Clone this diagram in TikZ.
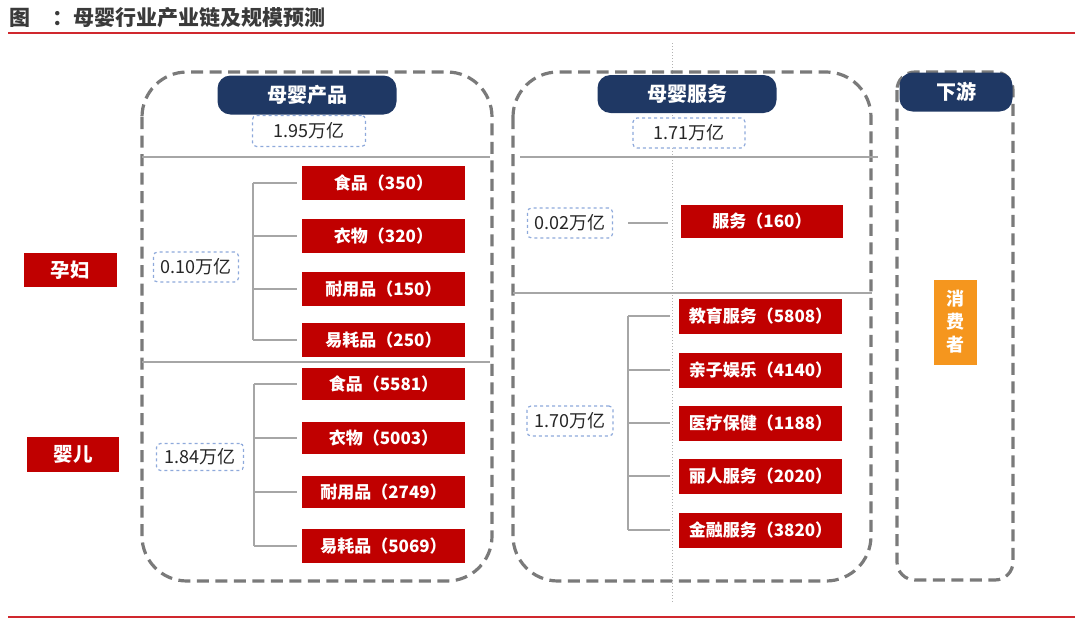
\documentclass[tikz,border=0pt]{standalone}
\usepackage{fontspec}
\setmainfont{Noto Sans CJK SC}
\usetikzlibrary{calc}
\definecolor{navy}{HTML}{1F3864}
\definecolor{boxred}{HTML}{C00000}
\definecolor{linered}{HTML}{D0282E}
\definecolor{dashgrey}{HTML}{7A7A7A}
\definecolor{divgrey}{HTML}{A6A6A6}
\definecolor{valblue}{HTML}{8EA9DB}
\definecolor{orangebox}{HTML}{F5961E}
\definecolor{titlegrey}{HTML}{3A3A3A}
\tikzset{
  bigbox/.style={draw=dashgrey, line width=3.2pt, dash pattern=on 12pt off 6.5pt},
  divline/.style={draw=divgrey, line width=1.8pt},
  brline/.style={draw=divgrey, line width=1.8pt},
  pill/.style={fill=navy, rounded corners=13pt, text=white, font=\fontsize{20}{20}\selectfont\bfseries, inner sep=0pt},
  valbox/.style={draw=valblue, dashed, line width=1.2pt, rounded corners=4pt, fill=white, text=black!85, font=\fontsize{18}{18}\selectfont, inner sep=0pt},
  redbox/.style={fill=boxred, text=white, font=\fontsize{17}{17}\selectfont\bfseries, inner sep=0pt},
  itembox/.style={redbox, minimum width=163pt, minimum height=34pt},
  catbox/.style={redbox, font=\fontsize{19.5}{19.5}\selectfont\bfseries},
}
\begin{document}
\begin{tikzpicture}[x=1pt,y=-1pt]
\useasboundingbox (0,0) rectangle (1080,621);
% title and red rules
\node[anchor=west, text=titlegrey, font=\fontsize{21}{21}\selectfont\bfseries, inner sep=0pt] (title) at (9,18) {图\hspace{1.05em}：母婴行业产业链及规模预测};
\coordinate (rt1) at (8,33);
\coordinate (rt2) at (1075,33);
\coordinate (rb1) at (8,617);
\coordinate (rb2) at (1075,617);
\draw[linered, line width=2.2pt] (rt1) -- (rt2);
\draw[linered, line width=2.2pt] (rb1) -- (rb2);
% faint dotted vertical
\coordinate (dv1) at (672,43);
\coordinate (dv2) at (672,602);
\draw[black!30, dotted, line width=1pt] (dv1) -- (dv2);
% big dashed boxes
\draw[bigbox, rounded corners=45pt] (142,72) rectangle (492,581);
\draw[bigbox, rounded corners=45pt] (513,72) rectangle (871,581);
\draw[bigbox, rounded corners=18pt] (897,72) rectangle (1013,580);
% dividing lines
\coordinate (d1a) at (142,157); \coordinate (d1b) at (490,157);
\coordinate (d2a) at (142,362); \coordinate (d2b) at (490,362);
\coordinate (d3a) at (520,157); \coordinate (d3b) at (878,157);
\coordinate (d4a) at (513,293); \coordinate (d4b) at (872,293);
\draw[divline] (d1a) -- (d1b);
\draw[divline] (d2a) -- (d2b);
\draw[divline] (d3a) -- (d3b);
\draw[divline] (d4a) -- (d4b);
% pills
\node[pill, minimum width=179pt, minimum height=39pt] (p1) at (307,95) {母婴产品};
\node[pill, minimum width=179pt, minimum height=38pt] (p2) at (687,94) {母婴服务};
\node[pill, minimum width=113pt, minimum height=39pt] (p3) at (956,92) {下游};
% value boxes
\node[valbox, minimum width=113pt, minimum height=31pt] (v1) at (309,131) {1.95万亿};
\node[valbox, minimum width=112pt, minimum height=30pt] (v2) at (689,133) {1.71万亿};
\node[valbox, minimum width=85pt, minimum height=30pt] (v3) at (196,267) {0.10万亿};
\node[valbox, minimum width=87pt, minimum height=27pt] (v4) at (200,457) {1.84万亿};
\node[valbox, minimum width=85pt, minimum height=30pt] (v5) at (570,223) {0.02万亿};
\node[valbox, minimum width=86pt, minimum height=30pt] (v6) at (570,421) {1.70万亿};
% category boxes
\node[catbox, minimum width=93pt, minimum height=34pt] (c1) at (70,270) {孕妇};
\node[catbox, minimum width=92pt, minimum height=35pt] (c2) at (73,454) {婴儿};
\node[fill=orangebox, text=white, font=\fontsize{18}{23}\selectfont\bfseries, minimum width=43pt, minimum height=85pt, inner sep=0pt, align=center] (cons) at (955,322) {消\\费\\者};
% product items
\node[itembox] (a1) at (383.5,183) {食品（350）};
\node[itembox] (a2) at (383.5,236) {衣物（320）};
\node[itembox] (a3) at (383.5,289) {耐用品（150）};
\node[itembox] (a4) at (383.5,340) {易耗品（250）};
\node[itembox, minimum height=32pt] (a5) at (383.5,384) {食品（5581）};
\node[itembox, minimum height=32pt] (a6) at (383.5,438) {衣物（5003）};
\node[itembox, minimum height=32pt] (a7) at (383.5,492) {耐用品（2749）};
\node[itembox] (a8) at (383.5,546) {易耗品（5069）};
% services
\node[itembox, minimum width=162pt, minimum height=33pt] (s0) at (762,221) {服务（160）};
\node[itembox, minimum height=35pt] (s1) at (760.5,316) {教育服务（5808）};
\node[itembox, minimum height=35pt] (s2) at (760.5,370) {亲子娱乐（4140）};
\node[itembox, minimum height=35pt] (s3) at (760.5,423) {医疗保健（1188）};
\node[itembox, minimum height=35pt] (s4) at (760.5,476) {丽人服务（2020）};
\node[itembox, minimum height=35pt] (s5) at (760.5,530) {金融服务（3820）};
% brackets
\coordinate (k1) at (253,0);
\coordinate (k2) at (254,0);
\coordinate (k3) at (628,0);
\draw[brline] (a1.west -| k1) -- (a4.west -| k1);
\foreach \n in {a1,a2,a3,a4} \draw[brline, shorten >=5pt] (\n.west -| k1) -- (\n.west);
\draw[brline] (a5.west -| k2) -- (a8.west -| k2);
\foreach \n in {a5,a6,a7,a8} \draw[brline, shorten >=5pt] (\n.west -| k2) -- (\n.west);
\draw[brline] (s1.west -| k3) -- (s5.west -| k3);
\foreach \n in {s1,s2,s3,s4,s5} \draw[brline, shorten >=9pt] (\n.west -| k3) -- (\n.west);
\draw[brline, shorten <=15pt, shorten >=13pt] (v5.east) -- (v5.east -| s0.west);
\end{tikzpicture}
\end{document}
